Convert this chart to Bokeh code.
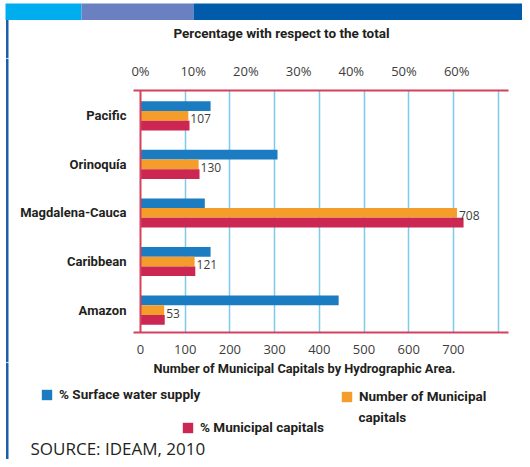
from bokeh.plotting import figure
from bokeh.layouts import column, row
from bokeh.models import (Range1d, LinearAxis, FixedTicker, Span, Label, Legend,
                          LegendItem, BoxAnnotation, ColumnDataSource)
from bokeh.core.properties import value
from bokeh.embed import file_html
from bokeh.resources import INLINE

# ---------------- data ----------------
areas = ["Pacific", "Orinoquía", "Magdalena-Cauca", "Caribbean", "Amazon"]
surface_water_pct = [13.3, 26.0, 12.2, 13.3, 37.6]
capitals_count = [107, 130, 708, 121, 53]
capitals_pct = [9.3, 11.2, 61.3, 10.4, 4.6]
pct_ticks = [0, 10, 20, 30, 40, 50, 60]
count_ticks = [0, 100, 200, 300, 400, 500, 600, 700]
grid_ticks = [100, 200, 300, 400, 500, 600, 700, 800]

# ---------------- style ----------------
BLUE = "#1b7cc2"
ORANGE = "#f59d2a"
RED = "#cc2653"
AXIS_RED = "#d5405c"
GRID = "#7ccbea"
TXT = "#231f20"
BORDER = "#1a5fa8"
BOLD = "Roboto"
REG = "Open Sans"

W = 522
STRIP_W = 9
TOP_H = 58          # page y 0..58
MAIN_H = 304        # page y 58..362
BOT_H = 97          # page y 362..459

# main plot geometry (page pixels)
FR_L, FR_R, FR_T, FR_B = 133, 508, 84, 332
X0_PX, PX_PER_UNIT, PX_PER_PCT = 140.0, 0.447, 5.27
PX_PER_ROW, Y_START = 49.75, -0.462

n = len(areas)
ys = [n - 1 - i for i in range(n)]
src = ColumnDataSource(dict(
    y=ys,
    y_blue=[v + 0.2 for v in ys],
    y_red=[v - 0.2 for v in ys],
    surface=surface_water_pct,
    count=capitals_count,
    cpct=capitals_pct,
    count_txt=[str(v) for v in capitals_count],
))


def blank_fig(width, height, y0):
    f = figure(width=width, height=height, output_backend="svg", toolbar_location=None,
               x_range=Range1d(0, width), y_range=Range1d(y0 + height, y0),
               min_border=0, x_axis_location=None, y_axis_location=None,
               background_fill_color="white", border_fill_color="white",
               frame_align=False)
    f.outline_line_color = None
    f.grid.grid_line_color = None
    return f


def left_border(f, y_top, y_bottom):
    f.add_layout(BoxAnnotation(left=5.5, right=8, top=y_top, bottom=y_bottom,
                               fill_color=BORDER, fill_alpha=1, line_color=None))


# ---------------- top: banner + title ----------------
pt = blank_fig(W, TOP_H, 0)
for l, r, c in [(5, 81, "#00aeef"), (81, 193, "#6b80c1"), (193, W, "#005baa")]:
    pt.add_layout(BoxAnnotation(left=l, right=r, top=3, bottom=19.5,
                                fill_color=c, fill_alpha=1, line_color=None))
left_border(pt, 19.5, TOP_H)
pt.add_layout(Label(x=281, y=32, text="Percentage with respect to the total",
                    text_font=BOLD, text_font_style="bold", text_font_size="13.5px",
                    text_color=TXT, text_align="center", text_baseline="middle"))

# ---------------- left strip beside the chart ----------------
ps = blank_fig(STRIP_W, MAIN_H, TOP_H)
left_border(ps, TOP_H, TOP_H + MAIN_H)

# ---------------- main chart ----------------
p = figure(width=W - STRIP_W, height=MAIN_H, output_backend="svg", toolbar_location=None,
           x_range=Range1d((FR_L - X0_PX) / PX_PER_UNIT, (FR_R - X0_PX) / PX_PER_UNIT),
           y_range=Range1d(Y_START, Y_START + (FR_B - FR_T) / PX_PER_ROW),
           min_border_left=FR_L - STRIP_W, min_border_right=W - FR_R,
           min_border_top=FR_T - TOP_H, min_border_bottom=TOP_H + MAIN_H - FR_B,
           x_axis_location=None, y_axis_location=None, frame_align=False,
           background_fill_color="white", border_fill_color="white")
p.outline_line_color = None
p.extra_x_ranges = {"pct": Range1d((FR_L - X0_PX) / PX_PER_PCT, (FR_R - X0_PX) / PX_PER_PCT)}

p.xgrid.ticker = FixedTicker(ticks=grid_ticks)
p.xgrid.grid_line_color = GRID
p.xgrid.grid_line_width = 1.5
p.ygrid.grid_line_color = None

rb = p.hbar(y="y_blue", left=0, right="surface", height=0.2, source=src,
            x_range_name="pct", color=BLUE, line_color=None)
ro = p.hbar(y="y", left=0, right="count", height=0.2, source=src,
            color=ORANGE, line_color=None)
rr = p.hbar(y="y_red", left=0, right="cpct", height=0.2, source=src,
            x_range_name="pct", color=RED, line_color=None)

p.text(x="count", y="y", text="count_txt", source=src, x_offset=2, y_offset=3,
       text_font=value(REG), text_font_size="12px", text_color="#3d3d3d",
       text_baseline="middle", text_align="left")

top = LinearAxis(x_range_name="pct", ticker=FixedTicker(ticks=pct_ticks),
                 major_label_overrides={t: f"{t}%" for t in pct_ticks})
bottom = LinearAxis(ticker=FixedTicker(ticks=count_ticks))
for ax in (top, bottom):
    ax.axis_line_color = AXIS_RED
    ax.axis_line_width = 2
    ax.major_tick_line_color = None
    ax.minor_tick_line_color = None
    ax.major_label_text_font = REG
    ax.major_label_text_font_size = "13px"
    ax.major_label_text_color = "#3d3d3d"
top.major_label_standoff = 5
bottom.major_label_standoff = 6
p.add_layout(top, "above")
p.add_layout(bottom, "below")

left = LinearAxis(ticker=FixedTicker(ticks=ys),
                  major_label_overrides={ys[i]: areas[i] for i in range(n)})
left.axis_line_color = None
left.major_tick_line_color = None
left.minor_tick_line_color = None
left.major_label_standoff = 1
left.major_label_text_font = BOLD
left.major_label_text_font_style = "bold"
left.major_label_text_font_size = "13px"
left.major_label_text_color = TXT
p.add_layout(left, "left")

p.add_layout(Span(location=0, dimension="height", line_color=AXIS_RED, line_width=2))

# ---------------- bottom: axis title, legend, source ----------------
pb = blank_fig(W, BOT_H, TOP_H + MAIN_H)
left_border(pb, TOP_H + MAIN_H, TOP_H + MAIN_H + BOT_H)
pb.add_layout(Label(x=304, y=368, text="Number of Municipal Capitals by Hydrographic Area.",
                    text_font=BOLD, text_font_style="bold", text_font_size="12.8px",
                    text_color=TXT, text_align="center", text_baseline="middle"))
pb.add_layout(Label(x=30, y=459.5, text="SOURCE: IDEAM, 2010",
                    text_font=REG, text_font_size="17px",
                    text_color=TXT, text_align="left", text_baseline="bottom"))
pb.add_layout(Label(x=358, y=416, text="capitals",
                    text_font=BOLD, text_font_style="bold", text_font_size="13.5px",
                    text_color=TXT, text_align="left", text_baseline="middle"))

# legend swatches: the same series, mapped through a range far outside this panel
pb.extra_y_ranges = {"away": Range1d(1000, 1001)}
pb.extra_x_ranges = {"away": Range1d(-5000, -4000)}
lb = pb.hbar(y="y", left=0, right="surface", height=0.2, source=src,
             x_range_name="away", y_range_name="away", color=BLUE, line_color=None)
lo = pb.hbar(y="y", left=0, right="count", height=0.2, source=src,
             x_range_name="away", y_range_name="away", color=ORANGE, line_color=None)
lr = pb.hbar(y="y", left=0, right="cpct", height=0.2, source=src,
             x_range_name="away", y_range_name="away", color=RED, line_color=None)

BOT_Y1 = TOP_H + MAIN_H + BOT_H


def make_legend(label, rend, px_left, py_bottom):
    lg = Legend(items=[LegendItem(label=label, renderers=[rend])],
                location=(px_left, BOT_Y1 - py_bottom),
                orientation="horizontal", padding=0, margin=0, spacing=0,
                glyph_width=13, glyph_height=13, label_standoff=6,
                label_height=13, border_line_color=None,
                background_fill_alpha=0, label_text_font=BOLD,
                label_text_font_style="bold", label_text_font_size="13.5px",
                label_text_color=TXT, label_text_baseline="middle")
    pb.add_layout(lg, "center")


make_legend("% Surface water supply", lb, 40, 402)
make_legend("Number of Municipal", lo, 340, 404)
make_legend("% Municipal capitals", lr, 181, 435)

layout = column(pt, row(ps, p, spacing=0), pb, spacing=0)

open("out.html", "w").write(file_html(layout, INLINE))
